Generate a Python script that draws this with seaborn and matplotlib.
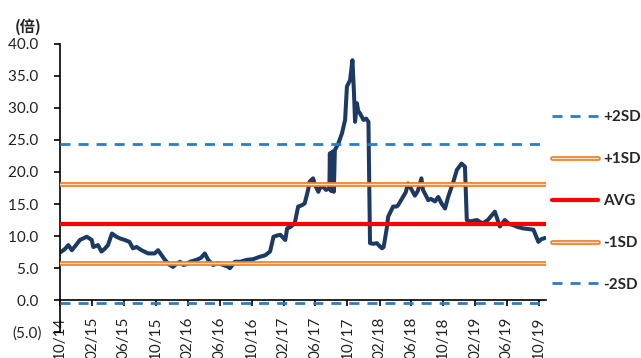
import matplotlib
matplotlib.use("Agg")
import matplotlib.pyplot as plt
import matplotlib.dates as mdates
import matplotlib.patheffects as pe
from matplotlib.ticker import FuncFormatter
import seaborn as sns
import pandas as pd

# ---- data ----
dates = [
    "2014-10-03", "2014-10-07", "2014-10-20", "2014-11-02", "2014-11-15", "2014-12-01",
    "2014-12-16", "2015-01-11", "2015-01-30", "2015-02-05", "2015-02-23", "2015-03-08",
    "2015-03-20", "2015-04-02", "2015-04-17", "2015-05-04", "2015-05-20", "2015-06-05",
    "2015-06-23", "2015-07-06", "2015-07-20", "2015-08-08", "2015-09-02", "2015-09-27",
    "2015-10-10", "2015-10-24", "2015-11-05", "2015-11-20", "2015-12-06", "2015-12-17",
    "2016-01-02", "2016-01-14", "2016-01-25", "2016-02-09", "2016-03-04", "2016-03-21",
    "2016-04-05", "2016-04-18", "2016-05-07", "2016-05-25", "2016-06-14", "2016-06-29",
    "2016-07-10", "2016-07-29", "2016-08-18", "2016-09-12", "2016-10-06", "2016-11-02",
    "2016-11-21", "2016-12-10", "2016-12-23", "2017-01-06", "2017-01-18", "2017-02-06",
    "2017-02-13", "2017-02-25", "2017-03-14", "2017-03-27", "2017-04-10", "2017-04-21",
    "2017-05-04", "2017-05-10", "2017-05-23", "2017-05-30", "2017-06-12", "2017-06-18",
    "2017-07-01", "2017-07-11", "2017-07-24", "2017-07-26", "2017-07-28", "2017-07-30",
    "2017-08-01", "2017-08-03", "2017-08-05", "2017-08-07", "2017-08-10", "2017-08-14",
    "2017-08-27", "2017-09-10", "2017-09-22", "2017-09-29", "2017-10-11", "2017-10-20",
    "2017-10-26", "2017-10-30", "2017-11-06", "2017-11-11", "2017-11-18", "2017-12-01",
    "2017-12-11", "2017-12-20", "2017-12-26", "2018-01-07", "2018-01-21", "2018-01-30",
    "2018-02-10", "2018-02-16", "2018-03-01", "2018-03-05", "2018-03-11", "2018-03-24",
    "2018-04-06", "2018-04-12", "2018-05-01", "2018-05-11", "2018-05-20", "2018-05-30",
    "2018-06-15", "2018-06-26", "2018-07-10", "2018-07-16", "2018-08-05", "2018-08-15",
    "2018-08-31", "2018-09-12", "2018-09-26", "2018-10-08", "2018-10-20", "2018-11-09",
    "2018-11-22", "2018-12-10", "2018-12-23", "2018-12-30", "2019-01-12", "2019-02-07",
    "2019-02-19", "2019-03-02", "2019-03-20", "2019-04-16", "2019-05-05", "2019-05-24",
    "2019-06-09", "2019-06-25", "2019-07-13", "2019-08-02", "2019-08-20", "2019-09-10",
    "2019-09-20", "2019-09-29", "2019-10-09", "2019-10-24",
]
pe_ratio = [
    7.5, 7.6, 8.0, 8.6, 7.8, 8.6,
    9.4, 9.9, 9.4, 8.3, 8.6, 7.6,
    8.0, 8.6, 10.4, 9.9, 9.6, 9.4,
    9.1, 8.1, 8.3, 7.8, 7.3, 7.3,
    7.8, 7.0, 6.3, 5.6, 5.2, 5.6,
    6.0, 5.5, 5.6, 6.0, 6.3, 6.6,
    7.3, 6.3, 5.5, 5.8, 5.5, 5.3,
    5.0, 6.0, 6.0, 6.3, 6.4, 6.8,
    7.0, 7.6, 9.9, 10.1, 10.2, 9.4,
    11.2, 11.4, 12.0, 14.6, 14.8, 15.1,
    17.2, 18.5, 19.0, 18.0, 16.9, 17.5,
    17.7, 17.2, 17.4, 22.9, 17.2, 22.5,
    17.0, 23.0, 17.3, 23.2, 16.9, 23.4,
    24.4, 26.0, 28.1, 33.3, 34.3, 37.4,
    32.2, 27.8, 30.7, 29.5, 29.1, 28.1,
    28.3, 27.8, 8.9, 8.8, 8.9, 8.5,
    8.1, 8.3, 11.5, 13.0, 13.5, 14.6,
    14.6, 14.8, 16.1, 16.8, 18.2, 17.5,
    16.3, 17.0, 19.0, 17.2, 15.6, 15.8,
    15.4, 16.1, 15.0, 14.3, 16.1, 18.5,
    20.3, 21.3, 20.8, 12.5, 12.3, 12.5,
    12.2, 12.0, 12.5, 13.8, 11.5, 12.5,
    11.9, 11.7, 11.4, 11.2, 11.1, 11.0,
    10.0, 9.1, 9.5, 9.7,
]
band_labels = ["+2SD", "+1SD", "AVG", "-1SD", "-2SD"]
band_values = [24.35, 18.15, 11.95, 5.75, -0.45]
y_ticks = [-5, 0, 5, 10, 15, 20, 25, 30, 35, 40]
unit_label = "(倍)"

df = pd.DataFrame({"date": pd.to_datetime(dates), "pe": pe_ratio})

# ---- style ----
sns.set_theme(style="white")
plt.rcParams["font.family"] = ["Lato", "Noto Sans CJK SC", "DejaVu Sans"]

fig = plt.figure(figsize=(6.41, 3.58), dpi=100)
ax = fig.add_axes([60 / 641, 1 - 332.4 / 358, (546 - 60) / 641, (332.4 - 43.5) / 358])

sns.lineplot(data=df, x="date", y="pe", ax=ax, color="#1C3A63", linewidth=2.9,
             estimator=None, sort=False, zorder=2, legend=False)

blue = "#2A7DC6"
orange = "#F47A20"
band_styles = {
    "+2SD": dict(color=blue, lw=2.0, ls=(0, (3.6, 2.9))),
    "+1SD": dict(color="#FDE2C8", lw=1.0,
                 path_effects=[pe.Stroke(linewidth=3.4, foreground=orange), pe.Normal()]),
    "AVG": dict(color="#FF0000", lw=3.0),
    "-1SD": dict(color="#FDE2C8", lw=1.0,
                 path_effects=[pe.Stroke(linewidth=3.4, foreground=orange), pe.Normal()]),
    "-2SD": dict(color=blue, lw=2.0, ls=(0, (3.6, 2.9))),
}
handles = []
for lab, val in zip(band_labels, band_values):
    h = ax.axhline(val, label=lab, zorder=3, **band_styles[lab])
    handles.append(h)

ax.set_ylim(-5, 40)
ax.set_xlim(pd.Timestamp("2014-10-01"), pd.Timestamp("2019-10-28"))
ax.set_yticks(y_ticks)
ax.yaxis.set_major_formatter(FuncFormatter(
    lambda v, p: f"({abs(v):.1f})" if v < 0 else f"{v:.1f} "))
ax.xaxis.set_major_locator(mdates.MonthLocator(bymonth=[2, 6, 10]))
ax.xaxis.set_major_formatter(mdates.DateFormatter("%m/%y"))

for s in ["top", "right"]:
    ax.spines[s].set_visible(False)
for s in ["left", "bottom"]:
    ax.spines[s].set_color("black")
    ax.spines[s].set_linewidth(1.2)
ax.spines["bottom"].set_position(("data", 0))
ax.spines["bottom"].set_zorder(1)

ax.tick_params(axis="y", which="major", direction="out", length=4, width=1.2,
               color="black", labelsize=11, pad=9, labelcolor="#222222", left=True)
ax.tick_params(axis="x", which="major", direction="out", length=4, width=1.2,
               color="black", labelsize=11, pad=8, labelcolor="#222222",
               labelrotation=90, bottom=True)
ax.set_xlabel("")
ax.set_ylabel("")
ax.grid(False)

fig.text(15 / 641, 1 - 27 / 358, unit_label, ha="left", va="center",
         fontsize=11, fontweight="bold", family=["Noto Sans CJK SC", "DejaVu Sans"])

leg = fig.legend(handles=handles, labels=band_labels, loc="upper left",
                 bbox_to_anchor=(552 / 641, 1 - 110 / 358), frameon=False,
                 handlelength=3.0, handletextpad=0.35, labelspacing=1.83,
                 borderpad=0, borderaxespad=0,
                 prop={"family": "Lato", "weight": "bold", "size": 11})

fig.savefig("out.png", dpi=100, facecolor="white")
